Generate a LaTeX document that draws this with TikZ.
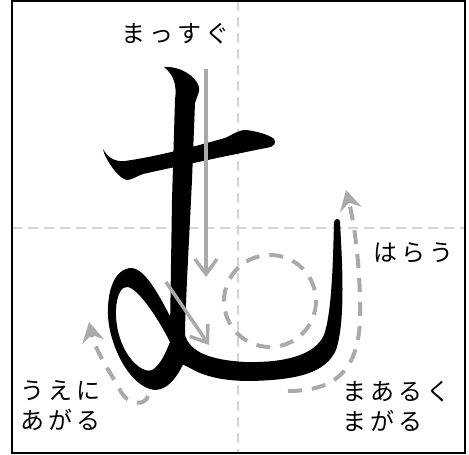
\documentclass[tikz,border=0pt]{standalone}
\usepackage{fontspec}
\newfontfamily\jp{Noto Sans CJK JP}
\usetikzlibrary{arrows.meta}
\definecolor{guide}{HTML}{D4D4D4}
\definecolor{hint}{HTML}{AAAAAA}
\tikzset{
  guideline/.style={draw=guide, line width=2pt, dash pattern=on 10pt off 6pt},
  frame/.style={draw=black, line width=2.5pt},
  ink/.style={fill=black, draw=none},
  hintarrow/.style={draw=hint, line width=3.5pt, -{Straight Barb[length=15pt,width=22pt]}},
  hintdash/.style={draw=hint, line width=4pt, dash pattern=on 14pt off 10pt},
  hintdasharrow/.style={hintdash, -{Stealth[length=20pt,width=22pt,inset=7pt]}},
  label/.style={font=\jp\fontsize{24pt}{30pt}\selectfont, anchor=west, inner sep=0pt, align=left}
}
\newcommand{\gp}{\hspace{4pt}}
\begin{document}
\begin{tikzpicture}[x=1pt,y=-1pt]
\useasboundingbox (0,0) rectangle (469,455);
% guides
\draw[guideline] (238,1) -- (238,453);
\draw[guideline] (12,228) -- (465,228);
% horizontal bar
\path[ink] (103,149) .. controls (108,158) and (115,162) .. (125,161)
  .. controls (160,156) and (200,145) .. (225,138)
  .. controls (232,135) and (238,130) .. (246,130)
  .. controls (256,131) and (270,135) .. (274,139)
  .. controls (277,143) and (274,147) .. (266,148)
  .. controls (230,155) and (170,168) .. (143,174)
  .. controls (137,176) and (132,180) .. (127,180)
  .. controls (120,180) and (105,160) .. (103,149) -- cycle;
% vertical stroke + bottom hook
\path[ink] (164,67) .. controls (180,66) and (196,76) .. (199,87)
  .. controls (200,92) and (197,96) .. (195,103)
  -- (192,180) -- (187,280)
  .. controls (186,305) and (185,320) .. (185,335)
  .. controls (190,352) and (210,360) .. (245,362)
  .. controls (285,363) and (315,355) .. (324,335)
  .. controls (332,312) and (333,260) .. (334,222)
  .. controls (335,218) and (340,218) .. (340,222)
  .. controls (342,260) and (346,320) .. (336,350)
  .. controls (326,372) and (300,380) .. (250,381)
  .. controls (225,381) and (205,377) .. (190,368)
  -- (182,364)
  .. controls (176,355) and (171,345) .. (170,330)
  -- (172,200) -- (175,100)
  .. controls (177,85) and (174,75) .. (164,67) -- cycle;
% loop
\path[ink, even odd rule] (183,340) .. controls (168,315) and (150,270) .. (132,268)
  .. controls (115,268) and (107,290) .. (108,315)
  .. controls (109,345) and (130,388) .. (155,390)
  .. controls (170,390) and (180,372) .. (186,358) -- cycle
  (122,289) .. controls (113,300) and (114,330) .. (125,350)
  .. controls (133,365) and (145,373) .. (152,370)
  .. controls (160,366) and (166,352) .. (170,342)
  .. controls (160,322) and (140,290) .. (128,287)
  .. controls (125,287) and (123,288) .. (122,289) -- cycle;
% hint arrows
\coordinate (vs) at (206,69);
\coordinate (ve) at (206,277);
\draw[hintarrow] (vs) -- (ve);
\coordinate (ds) at (166,282);
\coordinate (de) at (209,345);
\draw[hintarrow] (ds) -- (de);
\coordinate (cc) at (270,301);
\draw[hintdash] (cc) circle[radius=46];
\coordinate (rs) at (288,391);
\coordinate (re) at (346,190);
\draw[hintdasharrow] (rs) .. controls (330,391) and (358,375) .. (360,320)
  .. controls (361,280) and (356,230) .. (re);
\coordinate (ls) at (148,396);
\coordinate (le) at (89,322);
\draw[hintdasharrow] (ls) .. controls (145,406) and (128,406) .. (120,390)
  .. controls (110,372) and (95,350) .. (le);
% frame
\draw[frame] (12,1) rectangle (465,453);
% labels
\node[label] (t1) at (121,34) {ま\gp っ\gp す\gp ぐ};
\node[label] (t2) at (373,253) {は\gp ら\gp う};
\node[label] (t3) at (20,406) {う\gp え\gp に\\あ\gp が\gp る};
\node[label] (t4) at (342,406) {ま\gp あ\gp る\gp く\\ま\gp が\gp る};
\end{tikzpicture}
\end{document}
